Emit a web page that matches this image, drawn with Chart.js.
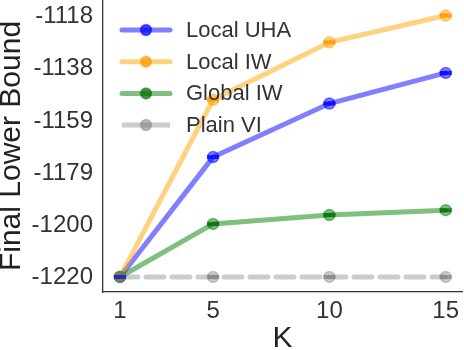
<!DOCTYPE html>
<html>
<head>
<meta charset="utf-8">
<script src="https://cdn.jsdelivr.net/npm/chart.js@4/dist/chart.umd.min.js"></script>
<style>
  html, body { margin: 0; padding: 0; background: #fff; }
  #wrap { width: 464px; height: 350px; }
</style>
</head>
<body>
<div id="wrap"><canvas id="chart" width="464" height="350"></canvas></div>
<script>
// K values on the x axis
const kValues = [1, 5, 10, 15]

// final lower bound per method
const localUha = [-1220, -1173, -1152, -1140]
const localIw = [-1220, -1150.5, -1128, -1117.5]
const globalIw = [-1220, -1199.2, -1195.7, -1193.8]
const plainVi = [-1220, -1220, -1220, -1220]

// y ticks are evenly spaced, labels rounded
const yTickValues = [-1220, -1199.6, -1179.2, -1158.8, -1138.4, -1118]
const yTickLabels = ["-1220", "-1200", "-1179", "-1159", "-1138", "-1118"]

const fontFamily = "'Liberation Sans', Arial, sans-serif"

const series = [
  { label: "Local UHA", data: localUha, color: "rgba(0, 0, 255, 0.5)", dark: "rgba(0, 0, 255, 0.75)", dash: [] },
  { label: "Local IW", data: localIw, color: "rgba(255, 165, 0, 0.5)", dark: "rgba(255, 150, 0, 0.75)", dash: [] },
  { label: "Global IW", data: globalIw, color: "rgba(0, 128, 0, 0.5)", dark: "rgba(0, 110, 0, 0.75)", dash: [] },
  { label: "Plain VI", data: plainVi, color: "rgba(128, 128, 128, 0.4)", dark: "rgba(110, 110, 110, 0.5)", dash: [18, 8] },
]

// draw legend inside the plot, top-left
const insideLegend = {
  id: "insideLegend",
  afterDraw(chart) {
    const ctx = chart.ctx
    const area = chart.chartArea
    ctx.save()
    series.forEach((s, i) => {
      const y = area.top + 30 + i * 31.7
      const x0 = area.left + 19
      const x1 = area.left + 67
      ctx.strokeStyle = s.color
      ctx.lineWidth = 5
      ctx.lineCap = s.dash.length ? "butt" : "round"
      ctx.beginPath()
      ctx.moveTo(x0, y)
      ctx.lineTo(x1, y)
      ctx.stroke()
      const mx = (x0 + x1) / 2
      ctx.fillStyle = s.dark
      ctx.beginPath()
      ctx.arc(mx, y, 5.5, 0, Math.PI * 2)
      ctx.fill()
      ctx.strokeStyle = s.color
      ctx.lineWidth = 1.5
      ctx.stroke()
      ctx.fillStyle = "#333"
      ctx.font = "22px " + fontFamily
      ctx.textBaseline = "middle"
      ctx.textAlign = "left"
      ctx.fillText(s.label, area.left + 83, y + 1)
    })
    ctx.restore()
  },
}

// little error-bar caps across each marker
const caps = {
  id: "caps",
  afterDatasetsDraw(chart) {
    const ctx = chart.ctx
    ctx.save()
    chart.data.datasets.forEach((ds, i) => {
      const meta = chart.getDatasetMeta(i)
      const s = series.find((x) => x.label === ds.label)
      ctx.strokeStyle = s.dark
      ctx.lineWidth = 2
      meta.data.forEach((pt) => {
        ctx.beginPath()
        ctx.moveTo(pt.x - 6, pt.y - 1)
        ctx.lineTo(pt.x + 6, pt.y - 1)
        ctx.moveTo(pt.x - 6, pt.y + 1)
        ctx.lineTo(pt.x + 6, pt.y + 1)
        ctx.stroke()
      })
    })
    ctx.restore()
  },
}

new Chart(document.getElementById("chart"), {
  type: "line",
  data: {
    datasets: series.map((s) => ({
      label: s.label,
      data: s.data.map((v, i) => ({ x: kValues[i], y: v })),
      borderColor: s.color,
      backgroundColor: s.color,
      borderWidth: 5,
      borderDash: s.dash,
      borderCapStyle: "round",
      pointRadius: 5.5,
      pointBackgroundColor: s.color,
      pointBorderColor: s.color,
      pointBorderWidth: 1.5,
      tension: 0,
    })).reverse(),
  },
  options: {
    responsive: false,
    animation: false,
    layout: { autoPadding: false, padding: { top: 0, right: 2, left: 0, bottom: 0 } },
    plugins: {
      legend: { display: false },
      tooltip: { enabled: false },
    },
    scales: {
      x: {
        type: "linear",
        min: 0.27,
        max: 15.7,
        afterBuildTicks: (axis) => {
          axis.ticks = kValues.map((v) => ({ value: v }))
        },
        afterFit: (axis) => {
          axis.height = 58
          axis.paddingLeft = 0
          axis.paddingRight = 0
        },
        grid: { display: false, drawTicks: false },
        border: { display: true, color: "#333", width: 1.3 },
        ticks: {
          color: "#333",
          padding: 5,
          font: { size: 24, family: fontFamily },
          callback: (v) => String(v),
        },
        title: {
          display: true,
          text: "K",
          color: "#222",
          padding: 0,
          font: { size: 30, family: fontFamily, lineHeight: 0.75 },
        },
      },
      y: {
        min: -1225.9,
        max: -1111.4,
        afterBuildTicks: (axis) => {
          axis.ticks = yTickValues.map((v) => ({ value: v }))
        },
        afterFit: (axis) => {
          axis.width = 103
          axis.paddingTop = 0
          axis.paddingBottom = 0
        },
        grid: { display: false, drawTicks: false },
        border: { display: true, color: "#333", width: 1.3 },
        ticks: {
          color: "#333",
          padding: 10,
          font: { size: 24, family: fontFamily },
          callback: (v, i) => yTickLabels[i],
        },
        title: {
          display: true,
          text: "Final Lower Bound",
          color: "#222",
          padding: 0,
          font: { size: 30, family: fontFamily, lineHeight: 0.8 },
        },
      },
    },
  },
  plugins: [caps, insideLegend],
})
</script>
</body>
</html>
